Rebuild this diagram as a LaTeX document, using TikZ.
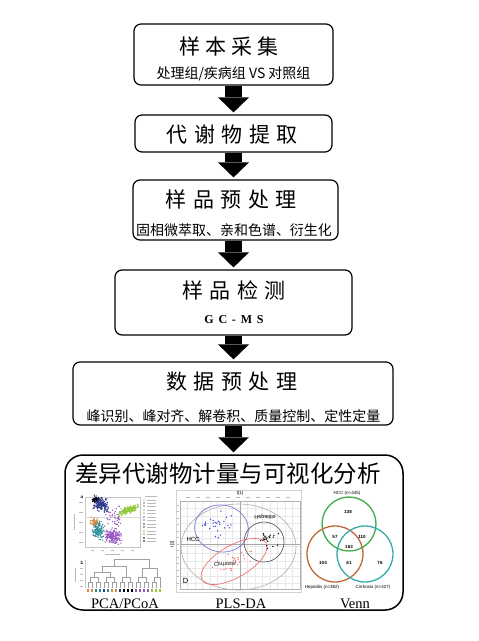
\documentclass[tikz,border=0pt]{standalone}
\usepackage{fontspec}
\setmainfont{Liberation Serif}
\setsansfont{Liberation Sans}
\newfontfamily\cjk{Noto Sans CJK SC}
\newfontfamily\cjkwide{Noto Sans CJK SC}[LetterSpace=31]
\newfontfamily\cjknarrow{Noto Sans CJK SC}[LetterSpace=23]
\newfontfamily\serifwide{Liberation Serif}[LetterSpace=40]
\usetikzlibrary{calc,arrows.meta}

\definecolor{pcanavy}{RGB}{45,55,140}
\definecolor{pcagreen}{RGB}{145,200,60}
\definecolor{pcapurple}{RGB}{150,85,190}
\definecolor{pcateal}{RGB}{40,140,150}
\definecolor{pcaorange}{RGB}{220,140,60}
\definecolor{plsblue}{RGB}{120,120,215}
\definecolor{plsdot}{RGB}{60,60,235}
\definecolor{plsred}{RGB}{240,115,115}
\definecolor{venngreen}{RGB}{60,170,70}
\definecolor{vennbrown}{RGB}{190,105,55}
\definecolor{vennteal}{RGB}{55,170,170}

% dot cloud: colour, cx, cy, sx, sy, n, shear
\newcommand\dotcloud[7]{%
	\foreach \k in {1,...,#6} {
		\pgfmathsetmacro\uu{(rand+rand)/2}
		\pgfmathsetmacro\vv{(rand+rand)/2}
		\pgfmathsetmacro\px{#2+#4*\uu}
		\pgfmathsetmacro\py{#3+#5*\vv+#7*#4*\uu}
		\fill[#1] (\px,\py) circle (0.75pt);
	}}

\begin{document}
\begin{tikzpicture}[
		x=1pt, y=-1pt,
		line join=round,
		box/.style={draw, line width=1.2pt, rounded corners=7pt, inner sep=0pt},
		bigbox/.style={draw, line width=1.5pt, rounded corners=18pt, inner sep=0pt},
		headlab/.style={font=\cjkwide\fontsize{21}{21}\selectfont, inner sep=0pt},
		sublab/.style={font=\cjk\fontsize{14}{14}\selectfont, inner sep=0pt},
		blockarrow/.style={line width=17pt, -{Triangle[width=31pt,length=15pt,line width=0pt]}, shorten >=2pt},
		plotlab/.style={font=\fontsize{14.5}{14.5}\selectfont, inner sep=0pt, anchor=base},
		minilab/.style={font=\sffamily\fontsize{4.5}{4.5}\selectfont, inner sep=0pt},
		ticktxt/.style={gray!55, line width=0.9pt},
		gridline/.style={gray!18, line width=0.3pt},
		tree/.style={gray!75, line width=0.5pt},
		frameline/.style={gray!45, line width=0.4pt}
	]
	\useasboundingbox (0,0) rectangle (479,641);
	\pgfmathsetseed{17}
	
	% Boxes
	\node[box, minimum width=199pt, minimum height=61pt] (b1) at (233.5,54.5) {};
	\node[box, minimum width=197pt, minimum height=37pt] (b2) at (233.5,133.5) {};
	\node[box, minimum width=205pt, minimum height=60pt] (b3) at (235.5,210) {};
	\node[box, minimum width=237pt, minimum height=65pt] (b4) at (233.5,302.5) {};
	\node[box, minimum width=320pt, minimum height=63pt] (b5) at (233,393.5) {};
	\node[bigbox, minimum width=338pt, minimum height=155pt] (b6) at (234,532.5) {};
	
	% Box texts
	\node[headlab, font=\cjknarrow\fontsize{21}{21}\selectfont] (t1) at (229,46.5) {样本采集};
	\node[sublab] (s1) at (233.5,73.5) {处理组/疾病组 VS 对照组};
	\node[headlab] (t2) at (232.5,134.5) {代谢物提取};
	\node[headlab] (t3) at (231.5,199) {样品预处理};
	\node[sublab] (s3) at (234,230) {固相微萃取、亲和色谱、衍生化};
	\node[headlab] (t4) at (234,290) {样品检测};
	\node[font=\serifwide\bfseries\fontsize{12}{12}\selectfont, inner sep=0pt, anchor=base] (s4) at (234,323) {GC-MS};
	\node[headlab] (t5) at (232,382) {数据预处理};
	\node[sublab] (s5) at (233.5,416.5) {峰识别、峰对齐、解卷积、质量控制、定性定量};
	\node[font=\cjk\fontsize{23.5}{23.5}\selectfont, inner sep=0pt] (t6) at (228,474) {差异代谢物计量与可视化分析};
	
	% Block arrows
	\draw[blockarrow] (b1.south) -- (b1.south |- b2.north);
	\draw[blockarrow] (b2.south) -- (b2.south |- b3.north);
	\draw[blockarrow] (b2.south |- b3.south) -- (b2.south |- b4.north);
	\draw[blockarrow] (b4.south) -- (b4.south |- b5.north);
	\draw[blockarrow] (b4.south |- b5.south) -- (b4.south |- b6.north);
	
	% PCA scatter
	\node[minilab, font=\sffamily\bfseries\fontsize{4.5}{4.5}\selectfont] (pa) at (82,497) {a};
	\draw[frameline] (85,497) rectangle (140,547);
	\draw[gray!30, line width=0.3pt] (85,517) -- (140,517);
	\foreach \t in {502,512,...,542} \draw[ticktxt] (79,\t) -- (82.5,\t);
	\foreach \t in {92,102,...,132} \draw[ticktxt] (\t-1.5,550) -- (\t+1.5,550);
	\draw[ticktxt] (74,514) -- (74,530);
	\draw[ticktxt] (105,554) -- (120,554);
	\dotcloud{pcapurple}{115}{517}{11}{13}{45}{0}
	\dotcloud{pcapurple}{113}{536}{9}{9}{170}{0}
	\dotcloud{pcanavy}{100}{504}{9}{8}{180}{0.2}
	\dotcloud{black}{95}{500}{4}{2.5}{25}{0}
	\dotcloud{pcagreen}{128}{510}{11}{4}{160}{-0.35}
	\dotcloud{pcateal}{98}{530}{6.5}{10}{140}{0.3}
	\dotcloud{pcaorange}{94}{522}{4}{5}{40}{0}
	
	% PCA legend
	\draw[ticktxt] (145,496) -- (157,496);
	\foreach \ly/\lc in {500/gray!50,503/pcapurple,506/pcapurple,510/pcagreen,513/pcagreen,
		517/pcateal,520/pcateal,524/pcanavy,527/pcanavy,531/pcaorange,534/pcaorange,538/black,541/black} {
		\fill[\lc] (144,\ly) circle (0.9pt);
		\draw[ticktxt, line width=0.8pt] (146.5,\ly) -- (156,\ly);
	}
	
	% Dendrogram
	\node[minilab, font=\sffamily\bfseries\fontsize{4.5}{4.5}\selectfont] (pb) at (82,563) {b};
	\draw[frameline] (85,560) -- (85,588);
	\foreach \t in {562,568,...,586} \draw[ticktxt] (80,\t) -- (83,\t);
	\draw[ticktxt] (75,568) -- (75,582);
	\foreach \l/\r in {88/92,96/100,104/108,112/116,120/124,128/132,136/140,144/148,152/156}
	\draw[tree] (\l,588) |- (\r,582) -- (\r,588);
	\foreach \l/\r in {90/98,106/114,122/130,138/146}
	\draw[tree] (\l,582) |- (\r,577) -- (\r,582);
	\draw[tree] (154,582) |- (160,577) -- (160,588);
	\draw[tree] (94,577) |- (110,572) -- (110,577);
	\draw[tree] (142,577) |- (157,568) -- (157,577);
	\draw[tree] (102,572) |- (126,566) -- (126,577);
	\draw[tree] (114,566) |- (149.5,559) -- (149.5,568);
	\foreach \lx/\lc in {88/pcaorange,92/pcaorange,96/pcateal,100/pcateal,104/pcanavy,108/pcateal,
		112/pcaorange,116/pcaorange,120/pcanavy,124/black,128/black,132/black,136/pcapurple,
		140/pcapurple,144/pcapurple,148/pcapurple,152/pcagreen,156/pcagreen,160/pcagreen}
	\fill[\lc] (\lx-1.3,589) rectangle (\lx+1.3,591.5);
	
	% PLS-DA
	\draw[gray!35, line width=0.5pt] (176,490) rectangle (301,592);
	\foreach \gx in {180,187.5,...,300} \draw[gridline] (\gx,501) -- (\gx,589);
	\foreach \gy in {501,508.5,...,589} \draw[gridline] (180,\gy) -- (300,\gy);
	\draw[gray!60, line width=0.4pt] (180,501) rectangle (300,589);
	\draw[gray!70, line width=0.5pt] (240,501) -- (240,589);
	\draw[gray!70, line width=0.5pt] (180,544) -- (300,544);
	\foreach \t in {188,198,...,296} \draw[ticktxt, line width=0.7pt] (\t-2,497.5) -- (\t+2,497.5);
	\foreach \t in {505,511.5,...,588} \draw[ticktxt, line width=0.7pt] (176.5,\t) -- (179,\t);
	\node[minilab] (pt1) at (240,493.5) {t[1]};
	\node[minilab, rotate=90] (pt2) at (172.5,544) {t[2]};
	\draw[gray!65, line width=0.6pt] (238.5,547) ellipse [x radius=57.5, y radius=43];
	\draw[plsblue, line width=0.7pt, rotate around={-10:(221.5,528.5)}] (221.5,528.5) ellipse [x radius=27, y radius=23.5];
	\draw[black!70, line width=0.6pt] (264,542) circle (20pt);
	\draw[plsred, line width=0.7pt, rotate around={30:(234,561.5)}] (234,561.5) ellipse [x radius=37, y radius=16];
	\dotcloud{plsdot}{219}{525}{17}{18}{28}{0}
	\dotcloud{plsred}{233}{561}{22}{10}{26}{-0.45}
	\dotcloud{black}{268}{542}{12}{15}{16}{0}
	\node[minilab, font=\sffamily\fontsize{6}{6}\selectfont] (phcc) at (193,539) {HCC};
	\node[minilab, font=\sffamily\fontsize{5.5}{5.5}\selectfont, yscale=-1, transform shape] (phep) at (265,516.5) {Hepatitis};
	\node[minilab, font=\sffamily\fontsize{5.5}{5.5}\selectfont, yscale=-1, transform shape] (pcir) at (225,564) {Cirrhosis};
	\node[minilab, font=\sffamily\fontsize{7.5}{7.5}\selectfont] (pd) at (185.5,581) {D};
	\node[minilab, font=\sffamily\fontsize{8}{8}\selectfont] (pa2) at (265,538.5) {A};
	
	% Venn
	\draw[venngreen, line width=1.3pt] (349,524) circle (27pt);
	\draw[vennbrown, line width=1.3pt] (335,554) circle (28pt);
	\draw[vennteal, line width=1.3pt] (365,554) circle (28pt);
	\node[minilab] (vh) at (347,493) {HCC (n=445)};
	\node[minilab] (vp) at (322,587.5) {Hepatitis (n=382)};
	\node[minilab] (vc) at (373,587.5) {Cirrhosis (n=427)};
	\foreach \vx/\vy/\vn in {348/512/138,335/537/57,362/537/110,349/547/163,323/563/104,349/563/61,380/563/76}
	\node[minilab, font=\sffamily\bfseries\fontsize{4.5}{4.5}\selectfont] at (\vx,\vy) {\vn};
	
	% Panel labels
	\node[plotlab] (lpca) at (125,608) {PCA/PCoA};
	\node[plotlab] (lpls) at (241,608) {PLS-DA};
	\node[plotlab] (lvenn) at (355,608) {Venn};
	
\end{tikzpicture}
\end{document}
